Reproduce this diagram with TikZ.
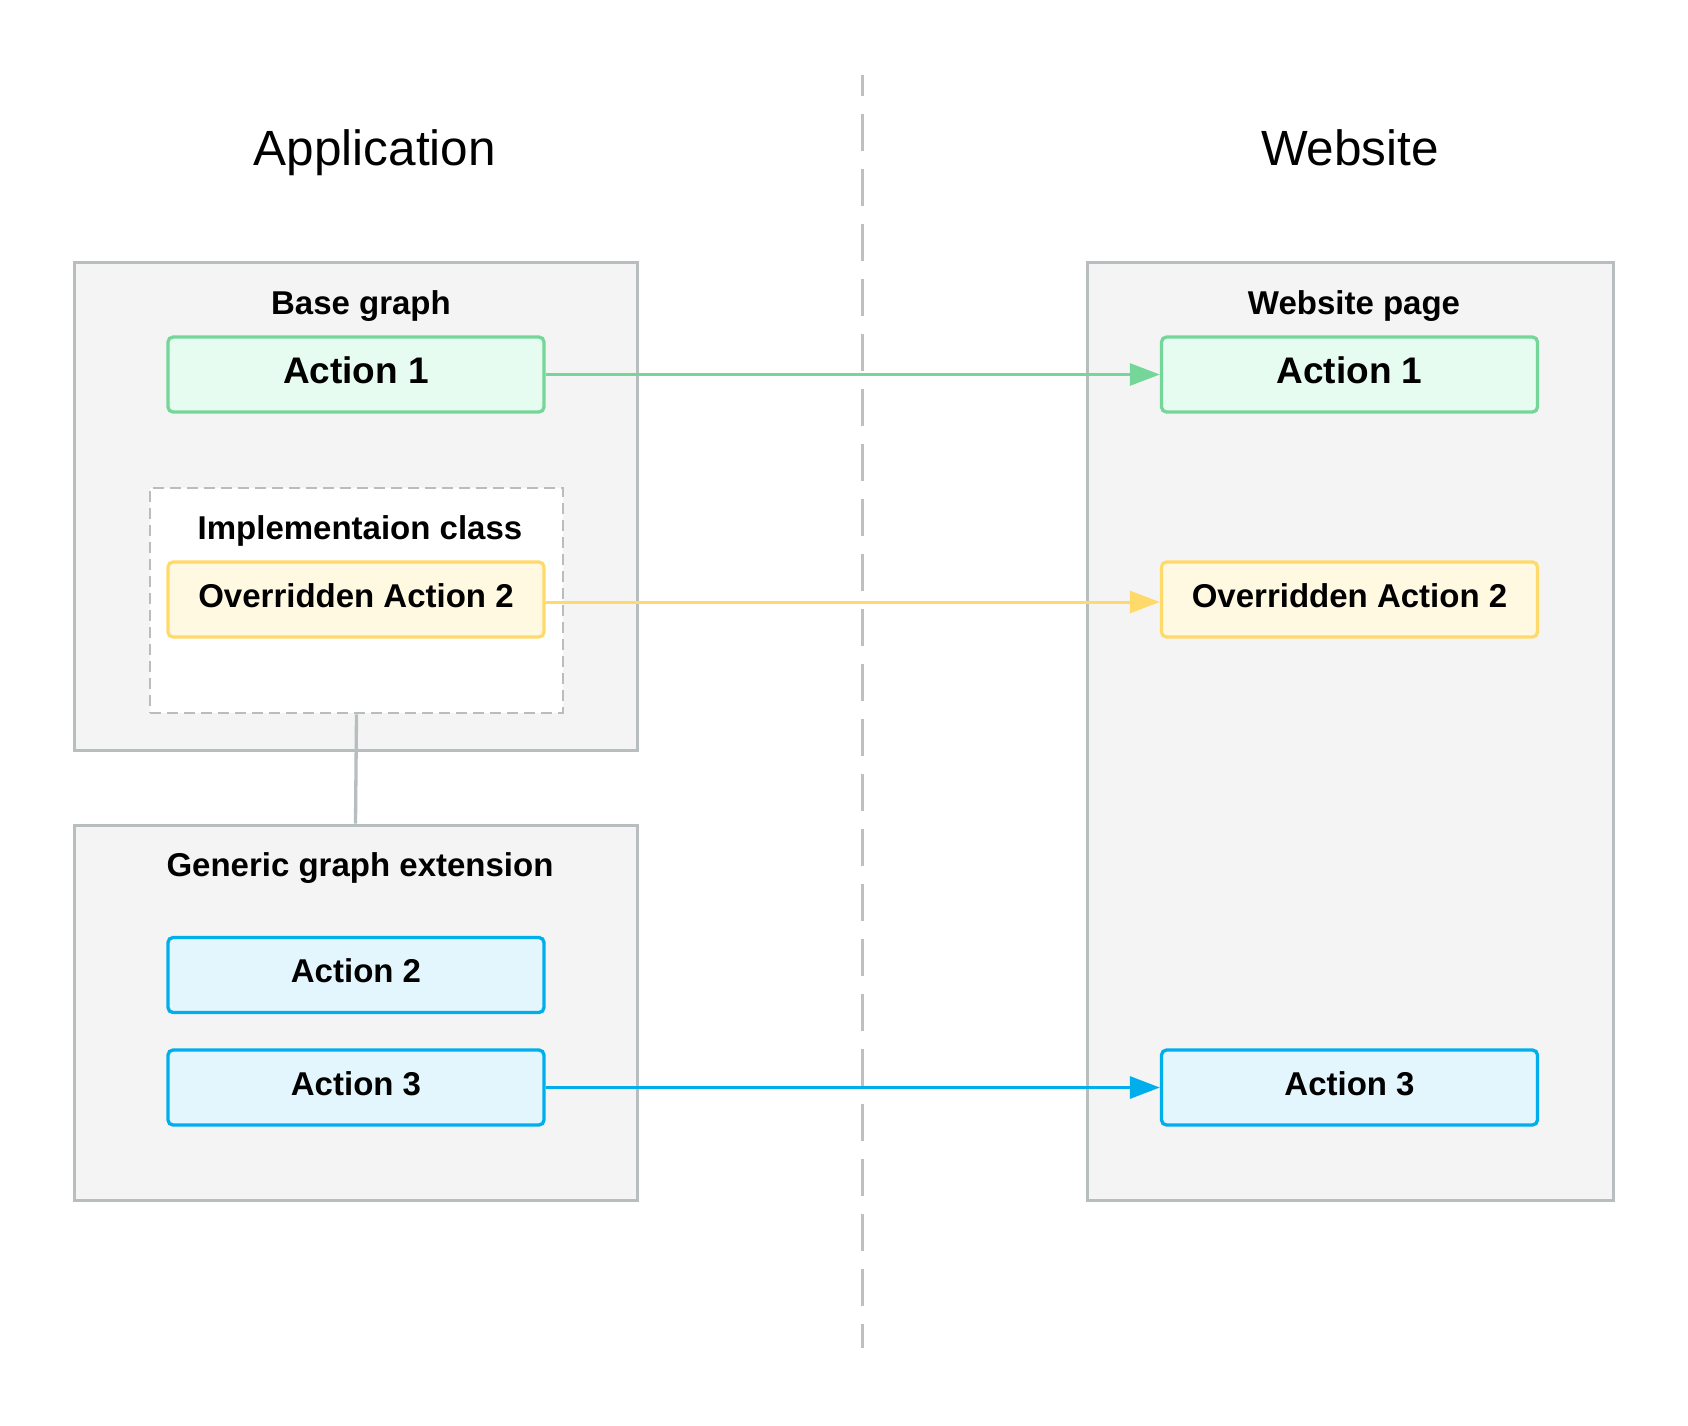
\documentclass[tikz,border=0pt]{standalone}
\usepackage{fontspec}
\setmainfont{Liberation Sans}
\usetikzlibrary{arrows.meta}
\definecolor{panelgray}{HTML}{B8BDBF}
\definecolor{panelfill}{HTML}{F4F4F4}
\definecolor{gborder}{HTML}{75D69A}
\definecolor{gfill}{HTML}{E6FCF0}
\definecolor{yborder}{HTML}{FFDA6A}
\definecolor{yfill}{HTML}{FFF9E2}
\definecolor{bborder}{HTML}{00AEEC}
\definecolor{bfill}{HTML}{E3F6FD}
\definecolor{divider}{HTML}{BCC0C2}
\tikzset{
  panel/.style={draw=panelgray, fill=panelfill, line width=3pt, inner sep=0pt},
  implbox/.style={draw=panelgray, fill=white, line width=2.5pt, dash pattern=on 11pt off 6pt, inner sep=0pt, minimum width=413pt, minimum height=225pt},
  actbox/.style={rounded corners=5pt, line width=3.3pt, minimum width=376pt, minimum height=75pt, inner sep=0pt, text depth=8pt, font=\fontsize{33}{40}\selectfont\bfseries},
  greenbox/.style={actbox, draw=gborder, fill=gfill, font=\fontsize{37}{44}\selectfont\bfseries},
  yellowbox/.style={actbox, draw=yborder, fill=yfill},
  bluebox/.style={actbox, draw=bborder, fill=bfill},
  lbl/.style={anchor=base, inner sep=0pt, font=\fontsize{33}{40}\selectfont\bfseries},
  title/.style={anchor=base, inner sep=0pt, font=\fontsize{49.5}{58}\selectfont},
  flow/.style={line width=3pt, -{Triangle[length=30pt,width=22pt]}},
  conn/.style={draw=panelgray, line width=3.3pt}
}
\begin{document}
\begin{tikzpicture}[x=1pt,y=-1pt]
\useasboundingbox[fill=white] (0,0) rectangle (1688,1425);

% divider
\coordinate (dtop) at (862,75);
\coordinate (dbot) at (862,1348);
\draw[divider, line width=3pt, dash pattern=on 37pt off 18pt, dash phase=16pt] (dtop) -- (dbot);

% titles
\node[title] (tapp) at (375,165) {Application};
\node[title] (tweb) at (1350,165) {Website};

% panels
\node[panel, minimum width=563pt, minimum height=488pt] (base) at (355.5,506) {};
\node[panel, minimum width=563pt, minimum height=375pt] (gen) at (355.5,1012.5) {};
\node[panel, minimum width=526pt, minimum height=938pt] (web) at (1350,731) {};

\node[implbox] (impl) at (356.5,600.5) {};

% panel labels
\node[lbl] (lbase) at (361,314) {Base graph};
\node[lbl] (limpl) at (360,539) {Implementaion class};
\node[lbl] (lgen) at (360,876) {Generic graph extension};
\node[lbl] (lweb) at (1354,314) {Website page};

% action boxes
\node[greenbox] (la1) at (356,374.5) {Action 1};
\node[yellowbox] (lo2) at (356,599.5) {Overridden Action 2};
\node[bluebox] (la2) at (356,975) {Action 2};
\node[bluebox] (la3) at (356,1087.5) {Action 3};

\node[greenbox] (ra1) at (1349.5,374.5) {Action 1};
\node[yellowbox] (ro2) at (1349.5,599.5) {Overridden Action 2};
\node[bluebox] (ra3) at (1349.5,1087.5) {Action 3};

% connectors
\draw[conn] (impl.south) -- (gen.north);
\draw[flow, draw=gborder, fill=gborder] (la1.east) -- (ra1.west);
\draw[flow, draw=yborder, fill=yborder] ([yshift=-2.5pt]lo2.east) -- ([yshift=-2.5pt]ro2.west);
\draw[flow, draw=bborder, fill=bborder] (la3.east) -- (ra3.west);
\end{tikzpicture}
\end{document}
